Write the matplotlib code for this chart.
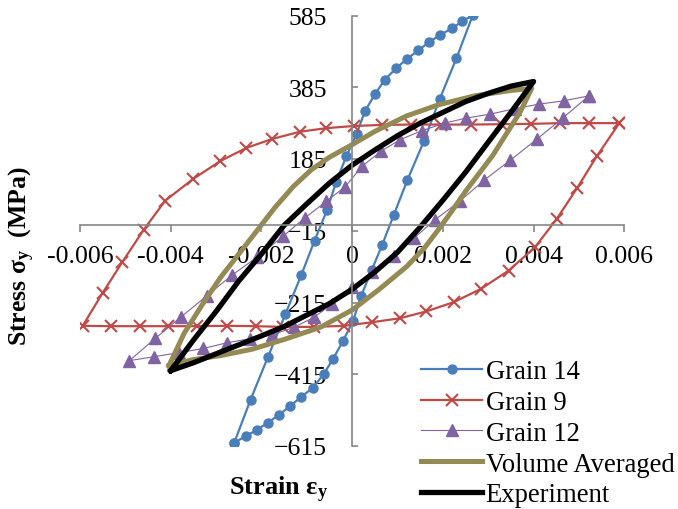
import matplotlib
matplotlib.use('Agg')
import matplotlib.pyplot as plt

plt.rcParams['font.family'] = 'Liberation Serif'
plt.rcParams['mathtext.fontset'] = 'custom'
plt.rcParams['mathtext.rm'] = 'Liberation Serif'
plt.rcParams['mathtext.bf'] = 'Liberation Serif:bold'
plt.rcParams['mathtext.it'] = 'Liberation Serif:italic'

# Grain 14 (loop)
g14_x = [-0.0026, -0.00224, -0.00186, -0.00147, -0.00112, -0.00083, -0.00055, -0.00035, -0.00013,
         0.0001, 0.00028, 0.0005, 0.00072, 0.00097, 0.00122, 0.00146, 0.0017, 0.00194, 0.0022,
         0.00243, 0.00266,
         0.0023, 0.00193, 0.00158, 0.00122, 0.00092, 0.00066, 0.00043, 0.0002, 0.00002, -0.0002,
         -0.00042, -0.00063, -0.00087, -0.00113, -0.00137, -0.00161, -0.00186, -0.0021, -0.00234, -0.0026]
g14_y = [-606, -486, -368, -247, -138, -43, 44, 122, 192,
         255, 318, 365, 406, 438, 465, 488, 511, 531, 549,
         569, 586,
         466, 352, 234, 127, 30, -55, -125, -196, -266, -322,
         -372, -415, -453, -479, -504, -528, -550, -570, -587, -606]

# Grain 9
g9_x = [0.00589, 0.00522, 0.00458, 0.00394, 0.00328, 0.00262, 0.00196, 0.0013, 0.00066, 0.00004,
        -0.00057, -0.00115, -0.00176, -0.00233, -0.00291, -0.00351, -0.00412, -0.0046, -0.00507,
        -0.0055, -0.00594,
        -0.00532, -0.00468, -0.00406, -0.00342, -0.00277, -0.00213, -0.00152, -0.00085, -0.00018,
        0.00044, 0.00105, 0.00163, 0.00224, 0.00284, 0.00345, 0.00403, 0.00451, 0.00496, 0.00539, 0.00589]
g9_y = [285, 285, 285, 283, 282, 281, 281, 281, 280, 277,
        271, 261, 241, 216, 179, 129, 69, -13, -103,
        -188, -280,
        -281, -281, -281, -281, -280, -281, -283, -283, -280,
        -270, -259, -240, -214, -177, -126, -61, 18, 104, 192, 285]

# Grain 12
g12_x = [0.00522, 0.00466, 0.00412, 0.00358, 0.00304, 0.00251, 0.00204, 0.00154, 0.00106, 0.00064,
         0.00022, -0.00015, -0.00057, -0.00105, -0.00153, -0.0021, -0.00264, -0.00321, -0.00378,
         -0.00434, -0.00491,
         -0.00436, -0.00382, -0.00328, -0.00275, -0.00225, -0.00176, -0.00128, -0.00084, -0.00044,
         0.0, 0.00044, 0.00092, 0.00136, 0.00182, 0.00237, 0.00291, 0.00349, 0.00408, 0.00464, 0.00522]
g12_y = [361, 347, 338, 325, 310, 299, 285, 264, 239, 207,
         165, 108, 67, 20, -31, -89, -138, -197, -256,
         -315, -377,
         -366, -355, -343, -327, -316, -305, -284, -256, -219,
         -173, -129, -86, -36, 15, 67, 126, 182, 241, 299, 361]

# Volume averaged
vol_x = [-0.00404, -0.0037, -0.0033, -0.0029, -0.0025, -0.0021, -0.0017, -0.0013, -0.0009,
         -0.0005, 0.0, 0.0005, 0.0012, 0.0019, 0.0027, 0.0035, 0.00396,
         0.0037, 0.0034, 0.0031, 0.0028, 0.0025, 0.0022, 0.0019, 0.0016, 0.0012, 0.0006, 0.0,
         -0.0007, -0.0015, -0.0022, -0.0029, -0.0035, -0.00404]
vol_y = [-391, -300, -220, -145, -80, -15, 50, 108, 155,
         190, 225, 262, 305, 336, 361, 376, 382,
         315, 255, 195, 145, 95, 40, -12, -62, -115, -178, -236,
         -284, -318, -345, -363, -374, -391]

# Experiment
exp_x = [-0.004, -0.0035, -0.003, -0.0025, -0.002, -0.0015, -0.001, -0.0005, 0.0,
         0.0005, 0.001, 0.0015, 0.002, 0.0025, 0.003, 0.0035, 0.004,
         0.0035, 0.003, 0.0025, 0.002, 0.0015, 0.001, 0.0005, 0.0,
         -0.0005, -0.001, -0.0015, -0.002, -0.0025, -0.003, -0.0035, -0.004]
exp_y = [-405, -320, -240, -155, -80, 0, 60, 118, 168,
         210, 250, 285, 315, 345, 368, 388, 401,
         315, 232, 148, 70, -5, -75, -130, -178,
         -218, -250, -282, -308, -333, -358, -383, -405]

xticks = [-0.006, -0.004, -0.002, 0, 0.002, 0.004, 0.006]
xtick_labels = ['-0.006', '-0.004', '-0.002', '0', '0.002', '0.004', '0.006']
yticks = [-615, -415, -215, -15, 185, 385, 585]

fig = plt.figure(figsize=(6.78, 5.1), dpi=100)
ax = fig.add_axes([80/678, 1-447/510, (624.3-80)/678, (447-16.5)/510])

ax.plot(g14_x, g14_y, color='#4A7EBB', lw=1.6, marker='o', ms=6.5, label='Grain 14')
ax.plot(g9_x, g9_y, color='#BE4B48', lw=1.6, marker='x', ms=8, mew=1.5, label='Grain 9')
ax.plot(g12_x, g12_y, color='#8064A2', lw=0.8, marker='^', ms=8.5, label='Grain 12')
ax.plot(vol_x, vol_y, color='#948A54', lw=3.6, label='Volume Averaged')
ax.plot(exp_x, exp_y, color='black', lw=3.8, label='Experiment')

ax.set_xlim(-0.006, 0.006)
ax.set_ylim(-615, 585)
ax.spines['left'].set_position(('data', 0))
ax.spines['bottom'].set_position(('data', 0))
ax.spines['top'].set_visible(False)
ax.spines['right'].set_visible(False)
for s in ['left', 'bottom']:
    ax.spines[s].set_color('#868686')
    ax.spines[s].set_linewidth(1.2)

ax.set_xticks(xticks)
ax.set_xticklabels(xtick_labels)
ax.set_yticks(yticks)
ax.tick_params(axis='x', direction='out', length=5, width=1.2, color='#868686', labelsize=18.5, pad=9)
ax.tick_params(axis='y', direction='in', length=4, width=1.2, color='#868686', labelsize=18.5, pad=18)

fig.text(279/678, 1-490/510, r'Strain $\mathbf{ε_y}$', ha='center', va='center',
         fontsize=19, fontweight='bold')
fig.text(22/678, 1-256/510, r'Stress $\mathbf{σ_y}$  (MPa)', ha='center', va='center',
         rotation=90, fontsize=18.5, fontweight='bold')

fig.legend(loc='upper left', bbox_to_anchor=(421/678, 1-360/510), frameon=False, fontsize=19.2,
           borderpad=0, borderaxespad=0, labelspacing=0.22, handlelength=2.3, handletextpad=0.12)

fig.savefig('out.png', dpi=100)
